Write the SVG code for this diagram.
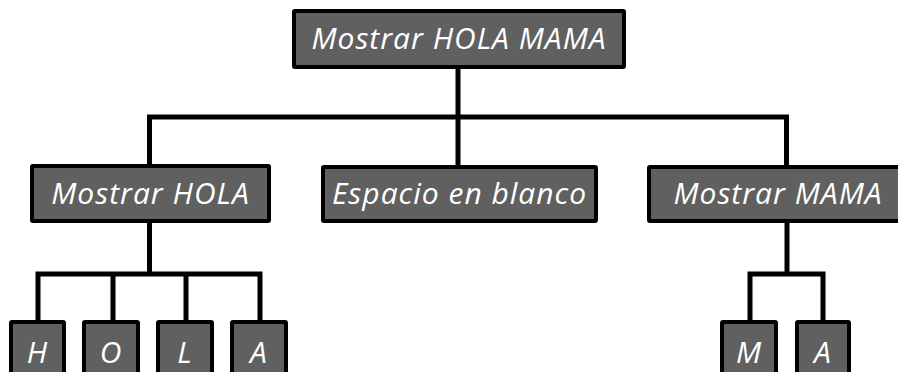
<svg xmlns="http://www.w3.org/2000/svg" width="898" height="372" viewBox="0 0 898 372">
<style>
.box{fill:#606060;stroke:#000;stroke-width:4}
.lbl{font-family:"Open Sans","Liberation Sans",sans-serif;font-style:italic;font-size:30px;letter-spacing:1px;fill:#fff;text-anchor:middle}
.con{fill:none;stroke:#000;stroke-width:5;stroke-linejoin:miter;stroke-linecap:butt}
</style>
<rect width="898" height="372" fill="#fff"/>
<g id="connectors">
<path class="con" d="M458,67 V117 M149.5,166 V117 H786.5 V166 M458,117 V166"/>
<path class="con" d="M149.5,221 V274 M38,322 V274 H260 V322 M113,274 V322 M186,274 V322"/>
<path class="con" d="M787,221 V274 M750,322 V274 H823 V322"/>
</g>
<g id="root"><rect class="box" x="294" y="11" width="330" height="56" rx="1"/><text class="lbl" x="459" y="49">Mostrar HOLA MAMA</text></g>
<g id="hola"><rect class="box" x="32" y="166" width="237" height="55" rx="1"/><text class="lbl" x="150.5" y="204">Mostrar HOLA</text></g>
<g id="espacio"><rect class="box" x="323" y="167" width="273" height="54" rx="1"/><text class="lbl" x="459.5" y="204">Espacio en blanco</text></g>
<g id="mama"><rect class="box" x="649" y="167" width="276" height="54" rx="1"/><text class="lbl" x="778" y="204">Mostrar MAMA</text></g>
<g id="h"><rect class="box" x="11" y="322" width="53" height="60" rx="1"/><text class="lbl" x="37.5" y="363">H</text></g>
<g id="o"><rect class="box" x="84" y="322" width="54" height="60" rx="1"/><text class="lbl" x="111" y="363">O</text></g>
<g id="l"><rect class="box" x="158" y="322" width="54" height="60" rx="1"/><text class="lbl" x="185" y="363">L</text></g>
<g id="a1"><rect class="box" x="232" y="322" width="54" height="60" rx="1"/><text class="lbl" x="259" y="363">A</text></g>
<g id="m"><rect class="box" x="722" y="322" width="54" height="60" rx="1"/><text class="lbl" x="749" y="363">M</text></g>
<g id="a2"><rect class="box" x="797" y="322" width="52" height="60" rx="1"/><text class="lbl" x="823" y="363">A</text></g>
</svg>
